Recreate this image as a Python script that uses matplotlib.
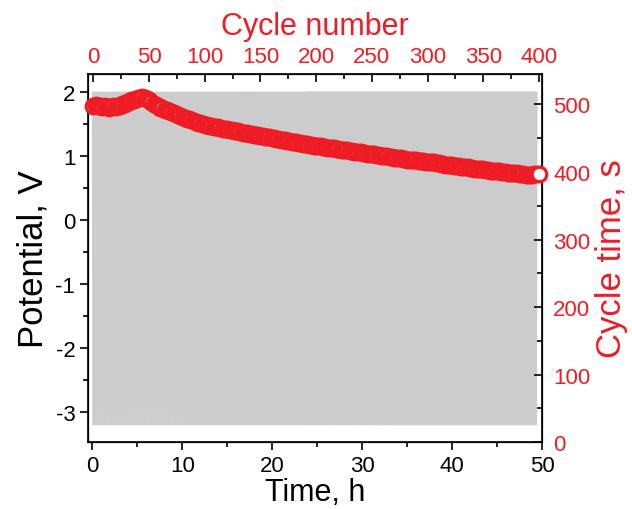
import numpy as np
import matplotlib
matplotlib.use("Agg")
import matplotlib.pyplot as plt
from matplotlib.ticker import MultipleLocator

plt.rcParams['font.family'] = ['Liberation Sans', 'DejaVu Sans']
plt.rcParams['axes.unicode_minus'] = False

RED = '#ee1c24'

# cycle number (every 2nd cycle) and measured cycle time (s)
cycle_number = list(range(0, 401, 2))
cycle_time = [
    498, 499, 497, 497, 496, 497, 496, 495, 496, 497, 496, 497, 498, 500, 501, 503, 504, 506, 507, 508, 509, 510, 511,
    510, 508, 506, 503, 501, 499, 497, 495,
    494, 492, 491, 490, 488, 487, 486, 484, 483, 482, 480, 479, 478, 477, 476, 474, 473, 472, 471, 469,
    469, 468, 468, 467, 466, 466, 465, 464, 464, 463, 462, 462, 461, 460, 460, 459, 458, 458, 457, 456,
    456, 455, 455, 454, 453, 453, 452, 452, 451, 450, 450, 449, 449, 448, 447, 447, 446, 446, 445, 444,
    444, 443, 443, 442, 441, 441, 440, 440, 439, 439,
    438, 438, 437, 437, 436, 436, 435, 435, 434, 434, 433, 433, 432, 432, 431, 431, 430, 430, 429, 429,
    428, 428, 427, 427, 426, 426, 425, 425, 424, 424, 423, 423, 422, 422, 421, 421, 420, 420, 419, 419,
    418, 418, 418, 417, 417, 416, 416, 416, 415, 415,
    415, 414, 414, 413, 413, 412, 412, 411, 411, 410, 410, 409, 409, 409, 408, 408, 407, 407, 406, 406,
    405, 405, 405, 404, 404, 403, 403, 402, 402, 402, 401, 401, 400, 400, 400, 399, 399, 398, 398, 398,
    397, 397, 397, 396, 396, 396, 396, 397, 397, 397,
]

# potential limits of the cycling (V)
V_upper = 2.0
V_lower = -3.2

# build the potential trace from cycle durations (each listed value covers 2 cycles)
durations = np.repeat(np.array(cycle_time[:-1], dtype=float), 2)  # 400 cycles
t_edges = np.concatenate([[0.0], np.cumsum(durations)]) / 3600.0
t_pts = []
v_pts = []
for i in range(len(durations)):
    t0, t1 = t_edges[i], t_edges[i + 1]
    t_pts += [t0, 0.5 * (t0 + t1)]
    v_pts += [V_upper, V_lower]
t_pts.append(t_edges[-1])
v_pts.append(V_upper)

fig = plt.figure(figsize=(6.32, 5.10), dpi=100)
ax = fig.add_axes([0.139, 0.131, 0.719, 0.722])

ax.fill_between([t_edges[0], t_edges[-1]], V_lower, V_upper, color='#e2e2e2', lw=0, zorder=1)
ax.plot(t_pts, v_pts, color='#cccccc', lw=0.8, zorder=2)

ax.set_xlim(-0.5, 50)
ax.set_ylim(-3.47, 2.28)
ax.xaxis.set_major_locator(MultipleLocator(10))
ax.xaxis.set_minor_locator(MultipleLocator(5))
ax.yaxis.set_major_locator(MultipleLocator(1))
ax.yaxis.set_minor_locator(MultipleLocator(0.5))
ax.tick_params(axis='both', which='major', direction='out', length=6, width=1.2, labelsize=16, top=False, right=False, pad=3)
ax.tick_params(axis='both', which='minor', direction='out', length=3.5, width=1.2, top=False, right=False)
ax.set_xlabel('Time, h', fontsize=22, labelpad=1)
ax.set_ylabel('Potential, V', fontsize=25, labelpad=4)
for s in ax.spines.values():
    s.set_linewidth(1.2)

# top/right axes for cycle data
ax2 = ax.twinx()
ax3 = ax2.twiny()
ax2.set_ylim(0, 545)
ax3.set_xlim(-5, 403)
ax2.yaxis.set_major_locator(MultipleLocator(100))
ax2.yaxis.set_minor_locator(MultipleLocator(50))
ax3.xaxis.set_major_locator(MultipleLocator(50))
ax3.xaxis.set_minor_locator(MultipleLocator(25))
ax2.tick_params(axis='y', which='major', direction='in', length=6, width=1.2, labelsize=16, colors='black', labelcolor=RED, pad=8)
ax2.tick_params(axis='y', which='minor', direction='in', length=3.5, width=1.2)
ax3.tick_params(axis='x', which='major', direction='in', length=6, width=1.2, labelsize=16, labelcolor=RED, pad=5)
ax3.tick_params(axis='x', which='minor', direction='in', length=3.5, width=1.2)
ax2.set_ylabel('Cycle time, s', fontsize=25, color=RED, labelpad=3)
ax3.set_xlabel('Cycle number', fontsize=22, color=RED, labelpad=9)

ax3.plot(cycle_number, cycle_time, linestyle='none', marker='o', markersize=10.5,
         markerfacecolor='white', markeredgecolor=RED, markeredgewidth=2.3, zorder=5, clip_on=False)

fig.savefig('out.png', dpi=100)
